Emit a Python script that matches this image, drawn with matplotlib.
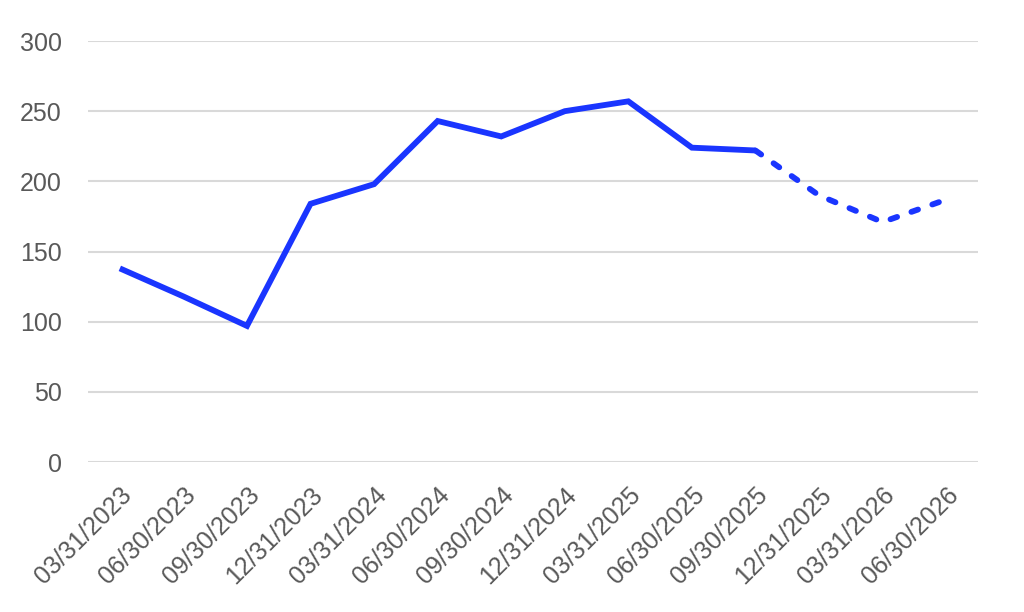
import numpy as np
import matplotlib.pyplot as plt

plt.rcParams['font.family'] = ['Liberation Sans', 'DejaVu Sans']

dates = ['03/31/2023', '06/30/2023', '09/30/2023', '12/31/2023',
         '03/31/2024', '06/30/2024', '09/30/2024', '12/31/2024',
         '03/31/2025', '06/30/2025', '09/30/2025', '12/31/2025',
         '03/31/2026', '06/30/2026']
values = [138, 118, 97, 184, 198, 243, 232, 250, 257, 224, 222, 190, 171, 187]
split = 10  # forecast (dashed) starts here

x = np.arange(len(dates))
blue = '#1a35ff'
grey = '#595959'

fig = plt.figure(figsize=(10.24, 6.12), dpi=100)
ax = fig.add_axes([0.086, 0.245, 0.869, 0.688])

ax.plot(x[:split + 1], values[:split + 1], color=blue, lw=4.2,
        solid_joinstyle='miter', solid_capstyle='butt')
ax.plot(x[split:], values[split:], color=blue, lw=4.2,
        dashes=(1.2, 2.6), dash_capstyle='round')

ax.set_xlim(-0.5, len(dates) - 0.5)
ax.set_ylim(0, 300)
ax.set_yticks(range(0, 301, 50))
ax.set_xticks(x)
ax.set_xticklabels(dates, rotation=45, ha='right', rotation_mode='anchor')
ax.grid(axis='y', color='#d9d9d9', lw=1.5)
ax.set_axisbelow(True)
for s in ax.spines.values():
    s.set_visible(False)
ax.tick_params(length=0, labelsize=18, labelcolor=grey)
ax.tick_params(axis='y', pad=19)
ax.tick_params(axis='x', pad=15)

fig.savefig('out.png', dpi=100)
